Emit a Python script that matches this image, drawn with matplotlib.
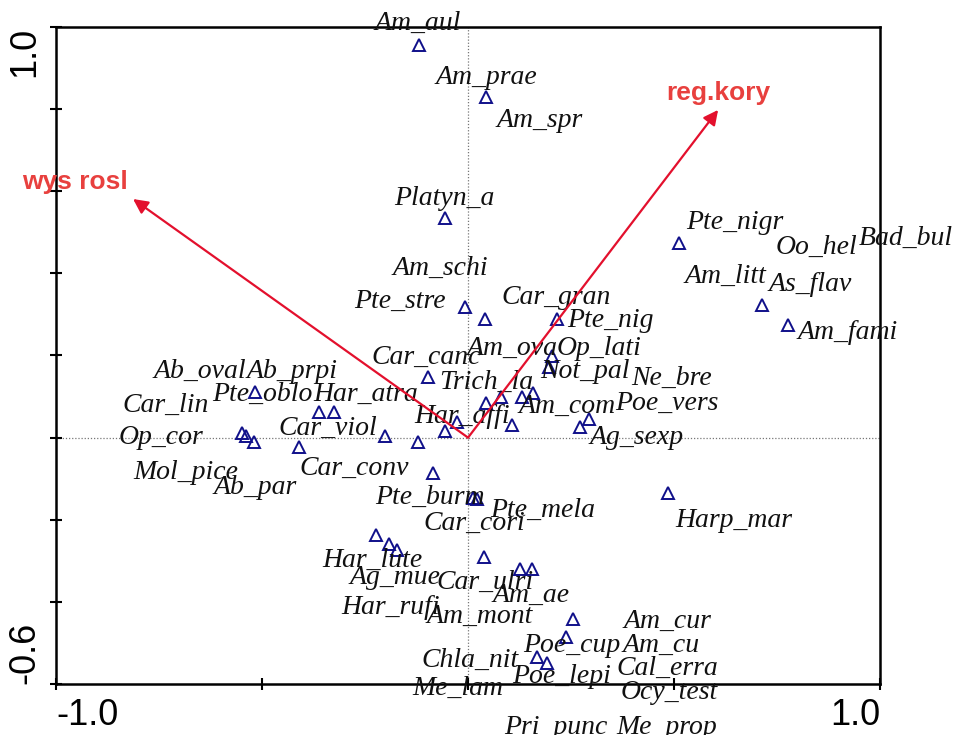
import matplotlib
matplotlib.use("Agg")
import matplotlib.pyplot as plt
import numpy as np

# species scores (triangles)
spec_x = [-0.119, 0.044, -0.056, 0.512, 0.714, 0.777, -0.007, 0.041, 0.216, 0.204,
          0.197, -0.097, 0.044, 0.080, 0.131, 0.158, 0.107, -0.027, -0.056, -0.121,
          -0.201, 0.272, 0.294, -0.517, -0.362, -0.325, -0.549, -0.539, -0.519, -0.410,
          -0.085, 0.012, 0.022, -0.223, -0.192, -0.172, 0.039, 0.126, 0.155, 0.485,
          0.255, 0.238, 0.167, 0.192]
spec_y = [0.956, 0.829, 0.534, 0.474, 0.323, 0.274, 0.318, 0.289, 0.289, 0.198,
          0.172, 0.147, 0.084, 0.099, 0.099, 0.108, 0.030, 0.038, 0.016, -0.011,
          0.004, 0.026, 0.045, 0.111, 0.062, 0.062, 0.011, 0.004, -0.011, -0.023,
          -0.086, -0.147, -0.150, -0.237, -0.259, -0.274, -0.291, -0.320, -0.320, -0.135,
          -0.442, -0.486, -0.535, -0.549]

# species labels and where CanoDraw put them
lab_names = ["Am_aul", "Am_prae", "Am_spr", "Platyn_a", "Pte_nigr", "Oo_hel", "Bad_bul",
             "Am_litt", "As_flav", "Am_fami", "Am_schi", "Pte_stre", "Car_gran", "Pte_nig",
             "Am_ova", "Op_lati", "Not_pal", "Ne_bre", "Poe_vers", "Am_com", "Ag_sexp",
             "Trich_la", "Car_canc", "Har_affi", "Ab_oval", "Ab_prpi", "Pte_oblo", "Har_atra",
             "Car_lin", "Op_cor", "Car_viol", "Mol_pice", "Ab_par", "Car_conv", "Pte_burm",
             "Pte_mela", "Car_cori", "Harp_mar", "Har_lute", "Ag_mue", "Car_ulri", "Am_ae",
             "Har_rufi", "Am_mont", "Am_cur", "Poe_cup", "Am_cu", "Chla_nit", "Cal_erra",
             "Poe_lepi", "Me_lam", "Ocy_test", "Pri_punc", "Me_prop"]
lab_x = [-0.121, 0.044, 0.175, -0.058, 0.648, 0.845, 1.063,
         0.626, 0.830, 0.922, -0.068, -0.165, 0.214, 0.345,
         0.107, 0.318, 0.284, 0.493, 0.483, 0.240, 0.408,
         0.044, -0.102, -0.015, -0.650, -0.427, -0.500, -0.248,
         -0.733, -0.745, -0.340, -0.684, -0.517, -0.277, -0.092,
         0.182, 0.015, 0.646, -0.233, -0.177, 0.041, 0.153,
         -0.189, 0.029, 0.483, 0.252, 0.468, 0.005, 0.483,
         0.228, -0.024, 0.488, 0.214, 0.483]
lab_y = [1.009, 0.878, 0.773, 0.583, 0.525, 0.464, 0.486,
         0.393, 0.374, 0.255, 0.413, 0.332, 0.340, 0.286,
         0.218, 0.218, 0.160, 0.145, 0.084, 0.077, 0.001,
         0.135, 0.196, 0.052, 0.162, 0.162, 0.106, 0.106,
         0.079, 0.001, 0.023, -0.084, -0.121, -0.074, -0.145,
         -0.177, -0.208, -0.201, -0.298, -0.340, -0.352, -0.384,
         -0.413, -0.435, -0.447, -0.506, -0.506, -0.542, -0.561,
         -0.581, -0.610, -0.620, -0.705, -0.705]

# environmental variables (arrows)
env_names = ["wys rosl", "reg.kory"]
env_x = [-0.813, 0.607]
env_y = [0.581, 0.798]
env_lab_x = [-0.953, 0.607]
env_lab_y = [0.622, 0.838]

fig = plt.figure(figsize=(9.58, 7.35), dpi=100)
ax = fig.add_axes([0.0585, 0.0694, 0.8601, 0.8939])
ax.set_xlim(-1.0, 1.0)
ax.set_ylim(-0.6, 1.0)

# zero lines
ax.axhline(0, color="#777777", lw=0.9, ls=(0, (1, 1.5)), zorder=1)
ax.axvline(0, color="#777777", lw=0.9, ls=(0, (1, 1.5)), zorder=1)

ax.plot(spec_x, spec_y, linestyle="none", marker="^", markersize=9,
        markerfacecolor="none", markeredgecolor="#10108a", markeredgewidth=1.4, zorder=3,
        clip_on=False)

for name, x, y in zip(lab_names, lab_x, lab_y):
    ax.text(x, y, name, ha="center", va="center", fontsize=20, style="italic",
            family="Liberation Serif", color="#111111", clip_on=False, zorder=4)

for name, x, y, lx, ly in zip(env_names, env_x, env_y, env_lab_x, env_lab_y):
    ax.annotate("", xy=(x, y), xytext=(0, 0),
                arrowprops=dict(arrowstyle="-|>", color="#e3102d", lw=1.6,
                                mutation_scale=22, shrinkA=0, shrinkB=0), zorder=5)
    ax.text(lx, ly, name, ha="center", va="center", fontsize=19, fontweight="bold",
            family="Liberation Sans", color="#e8403e", zorder=6)

for s in ax.spines.values():
    s.set_linewidth(1.8)
    s.set_color("black")

ax.set_xticks([-1.0, -0.5, 0.0, 0.5, 1.0])
ax.set_xticklabels(["-1.0", "", "", "", "1.0"])
ax.set_yticks(np.round(np.arange(-0.6, 1.01, 0.2), 1))
ylabs = [""] * len(ax.get_yticks())
ylabs[0] = "-0.6"
ylabs[-1] = "1.0"
ax.set_yticklabels(ylabs)
ax.tick_params(direction="inout", length=8, width=1.5, labelsize=26, pad=6)
for t in ax.get_xticklabels():
    t.set_family("Liberation Sans")
xl = ax.get_xticklabels()
xl[0].set_ha("left")
xl[-1].set_ha("right")
yl = ax.get_yticklabels()
for t in yl:
    t.set_rotation(90)
    t.set_family("Liberation Sans")
    t.set_ha("right")
yl[0].set_va("bottom")
yl[-1].set_va("top")

fig.savefig("out.png", dpi=100)
